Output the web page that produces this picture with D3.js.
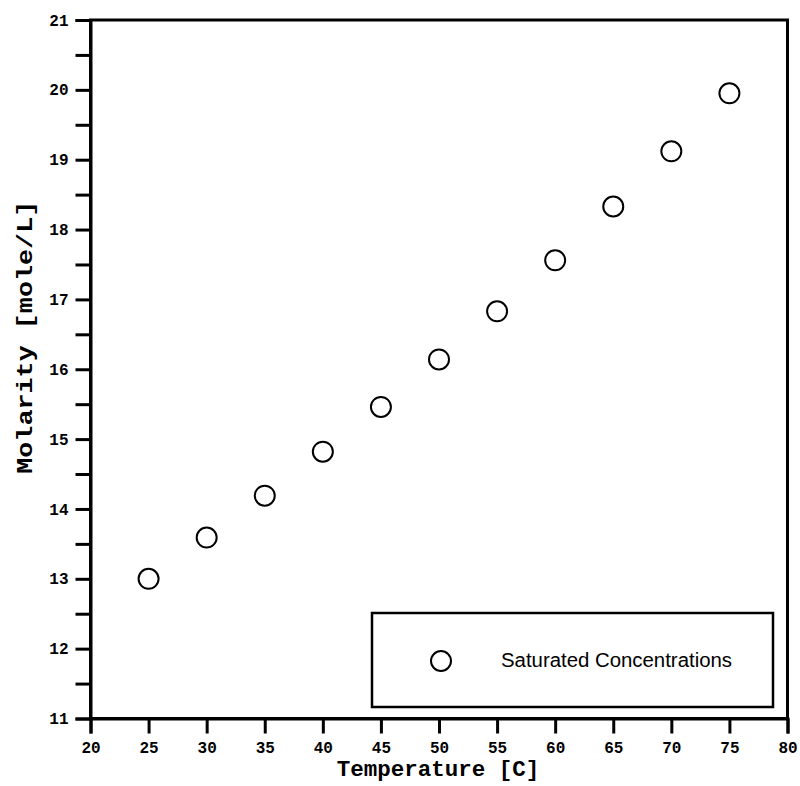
<!DOCTYPE html>
<html>
<head>
<meta charset="utf-8">
<script src="https://cdn.jsdelivr.net/npm/d3@7"></script>
<style>
  html, body { margin: 0; padding: 0; background: #fff; }
  svg { display: block; }
</style>
</head>
<body>
<svg id="chart" width="800" height="786"></svg>
<script>
// Saturated molarity versus temperature
const temperatures = [25, 30, 35, 40, 45, 50, 55, 60, 65, 70, 75];
const molarity = [13.00, 13.59, 14.19, 14.82, 15.46, 16.14, 16.83, 17.56, 18.33, 19.12, 19.95];
const xTicks = [20, 25, 30, 35, 40, 45, 50, 55, 60, 65, 70, 75, 80];
const yTicks = [11, 12, 13, 14, 15, 16, 17, 18, 19, 20, 21];
const yMinorTicks = [11.5, 12.5, 13.5, 14.5, 15.5, 16.5, 17.5, 18.5, 19.5, 20.5];
const seriesName = "Saturated Concentrations";
const xTitle = "Temperature [C]";
const yTitle = "Molarity [mole/L]";

const svg = d3.select("#chart");
const plot = { left: 90.5, right: 787.5, top: 20, bottom: 718.5 };
const monoFont = "'Liberation Mono', 'Courier New', monospace";

const x = d3.scaleLinear().domain([20, 80]).range([plot.left, plot.right]);
const y = d3.scaleLinear().domain([11, 21]).range([plot.bottom, plot.top]);

// Frame around the plotting area
svg.append("rect")
  .attr("x", plot.left).attr("y", plot.top)
  .attr("width", plot.right - plot.left).attr("height", plot.bottom - plot.top)
  .attr("fill", "none").attr("stroke", "#000").attr("stroke-width", 3);

// Bottom axis
const xAxis = svg.append("g")
  .attr("transform", `translate(0,${plot.bottom})`)
  .call(d3.axisBottom(x).tickValues(xTicks).tickFormat(d3.format("d")).tickSize(15).tickPadding(8));
xAxis.select(".domain").attr("stroke-width", 3);
xAxis.selectAll(".tick line").attr("stroke-width", 3);
xAxis.selectAll(".tick text")
  .attr("font-family", monoFont).attr("font-weight", "bold").attr("font-size", 16).attr("fill", "#000");

// Left axis, labelled major ticks
const yAxis = svg.append("g")
  .attr("transform", `translate(${plot.left},0)`)
  .call(d3.axisLeft(y).tickValues(yTicks).tickFormat(d3.format("d")).tickSize(15).tickPadding(7));
yAxis.select(".domain").attr("stroke-width", 3);
yAxis.selectAll(".tick line").attr("stroke-width", 3);
yAxis.selectAll(".tick text")
  .attr("font-family", monoFont).attr("font-weight", "bold").attr("font-size", 16).attr("fill", "#000");

// Left axis, unlabelled minor ticks
const yMinor = svg.append("g")
  .attr("transform", `translate(${plot.left},0)`)
  .call(d3.axisLeft(y).tickValues(yMinorTicks).tickFormat("").tickSize(15));
yMinor.select(".domain").remove();
yMinor.selectAll(".tick line").attr("stroke-width", 3);

// Axis titles
svg.append("text")
  .attr("x", 438).attr("y", 776)
  .attr("text-anchor", "middle")
  .attr("font-family", monoFont).attr("font-weight", "bold").attr("font-size", 22.5)
  .text(xTitle);

svg.append("text")
  .attr("transform", `translate(32,${(plot.top + plot.bottom) / 2 - 32}) rotate(-90)`)
  .attr("text-anchor", "middle")
  .attr("font-family", monoFont).attr("font-weight", "bold").attr("font-size", 22)
  .attr("textLength", 273).attr("lengthAdjust", "spacingAndGlyphs")
  .text(yTitle);

// Data points
svg.append("g")
  .selectAll("circle")
  .data(temperatures.map((t, i) => ({ t, m: molarity[i] })))
  .join("circle")
  .attr("cx", d => x(d.t))
  .attr("cy", d => y(d.m))
  .attr("r", 10)
  .attr("fill", "#fff")
  .attr("stroke", "#000")
  .attr("stroke-width", 2);

// Legend
const legend = svg.append("g");
legend.append("rect")
  .attr("x", 372).attr("y", 613).attr("width", 401).attr("height", 94)
  .attr("fill", "#fff").attr("stroke", "#000").attr("stroke-width", 2.5);
legend.append("circle")
  .attr("cx", 441).attr("cy", 661).attr("r", 10)
  .attr("fill", "#fff").attr("stroke", "#000").attr("stroke-width", 2);
legend.append("text")
  .attr("x", 501).attr("y", 667)
  .attr("font-family", "'Liberation Sans', Arial, sans-serif").attr("font-size", 19.5)
  .attr("textLength", 231).attr("lengthAdjust", "spacingAndGlyphs")
  .text(seriesName);
</script>
</body>
</html>
